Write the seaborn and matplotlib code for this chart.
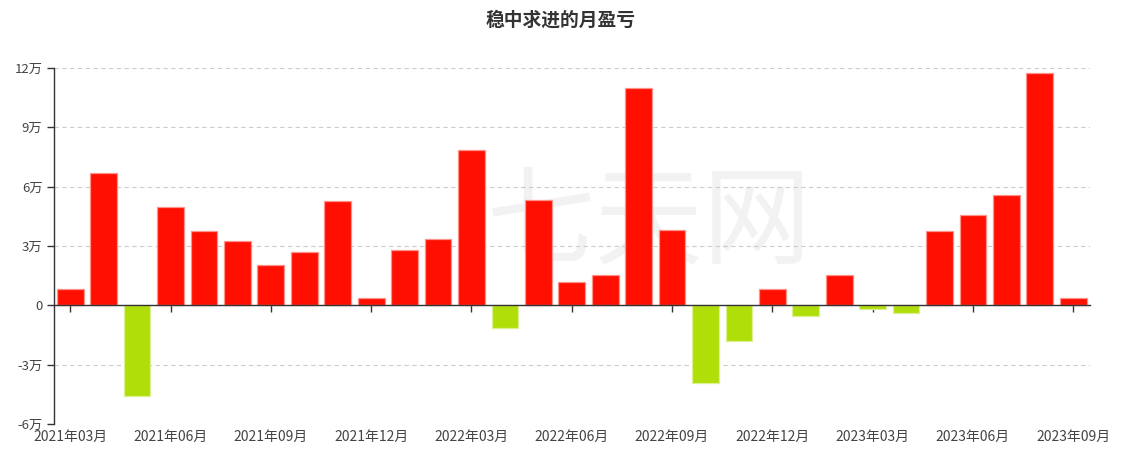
import numpy as np
import pandas as pd
import matplotlib
matplotlib.use("Agg")
import matplotlib.pyplot as plt
import seaborn as sns

# ---------- DATA ----------
months = [
    "2021年03月", "2021年04月", "2021年05月", "2021年06月", "2021年07月", "2021年08月",
    "2021年09月", "2021年10月", "2021年11月", "2021年12月", "2022年01月", "2022年02月",
    "2022年03月", "2022年04月", "2022年05月", "2022年06月", "2022年07月", "2022年08月",
    "2022年09月", "2022年10月", "2022年11月", "2022年12月", "2023年01月", "2023年02月",
    "2023年03月", "2023年04月", "2023年05月", "2023年06月", "2023年07月", "2023年08月",
    "2023年09月",
]
# monthly profit / loss, unit: 万
pnl = [
    0.81, 6.68, -4.60, 4.96, 3.76, 3.25, 2.04, 2.69, 5.28, 0.36, 2.78, 3.34,
    7.83, -1.17, 5.31, 1.20, 1.53, 10.99, 3.81, -3.95, -1.82, 0.85, -0.54, 1.51,
    -0.19, -0.38, 3.78, 4.57, 5.57, 11.75, 0.35,
]
y_ticks = [-6, -3, 0, 3, 6, 9, 12]
y_tick_labels = ["-6万", "-3万", "0", "3万", "6万", "9万", "12万"]
title = "稳中求进的月盈亏"
watermark = "七天网"

UP_COLOR = "#FF0F00"
DOWN_COLOR = "#B0DE09"

df = pd.DataFrame({"month": months, "pnl": pnl})
df["sign"] = np.where(df["pnl"] >= 0, "盈", "亏")

# ---------- STYLE ----------
sns.set_style("white")
plt.rcParams["font.family"] = ["Noto Sans CJK SC", "DejaVu Sans"]

W, H = 1122, 453
fig = plt.figure(figsize=(W / 100, H / 100), dpi=100)
ax = fig.add_axes([53.5 / W, 1 - 424 / H, (1090 - 53.5) / W, (424 - 68) / H])

# faint watermark behind the bars
ax.text(0.575, 0.56, watermark, transform=ax.transAxes, ha="center", va="center",
        fontsize=78, color="#f2f2f2", zorder=0)

sns.barplot(data=df, x="month", y="pnl", hue="sign",
            palette={"盈": UP_COLOR, "亏": DOWN_COLOR}, saturation=1,
            dodge=False, width=0.8, legend=False, ax=ax, zorder=3)

for p in ax.patches:
    fc = p.get_facecolor()
    light = tuple(c + (1 - c) * 0.55 for c in fc[:3])
    p.set_edgecolor(light)
    p.set_linewidth(0.9)

ax.set_xlim(-0.5, len(months) - 0.5)
ax.set_ylim(y_ticks[0], y_ticks[-1])
ax.set_yticks(y_ticks, labels=y_tick_labels)
ax.set_xlabel("")
ax.set_ylabel("")

ax.set_axisbelow(True)
ax.yaxis.grid(True, linestyle=(0, (4, 3)), color="#cccccc", linewidth=0.8)
ax.xaxis.grid(False)

for s in ["top", "right"]:
    ax.spines[s].set_visible(False)
ax.spines["left"].set_color("#333333")
ax.spines["left"].set_linewidth(1)
ax.spines["bottom"].set_position(("data", 0))
ax.spines["bottom"].set_color("#333333")
ax.spines["bottom"].set_linewidth(1)
ax.spines["bottom"].set_zorder(4)

tick_pos = list(range(0, len(months), 3))
ax.set_xticks(tick_pos)
ax.tick_params(axis="x", bottom=True, length=5, width=1, color="#333333",
               labelbottom=False, direction="out")
ax.tick_params(axis="y", left=True, length=5, width=1, color="#333333",
               labelsize=9.5, labelcolor="#444444", pad=3)

sec = ax.secondary_xaxis("bottom")
sec.set_xticks(tick_pos, labels=[months[i] for i in tick_pos])
sec.tick_params(length=0, pad=4.5, labelsize=10, labelcolor="#444444")
sec.spines["bottom"].set_visible(False)

fig.text(0.5, 1 - 20 / H, title, ha="center", va="center",
         fontsize=13.5, weight="bold", color="#333333")

fig.savefig("out.png", dpi=100)
